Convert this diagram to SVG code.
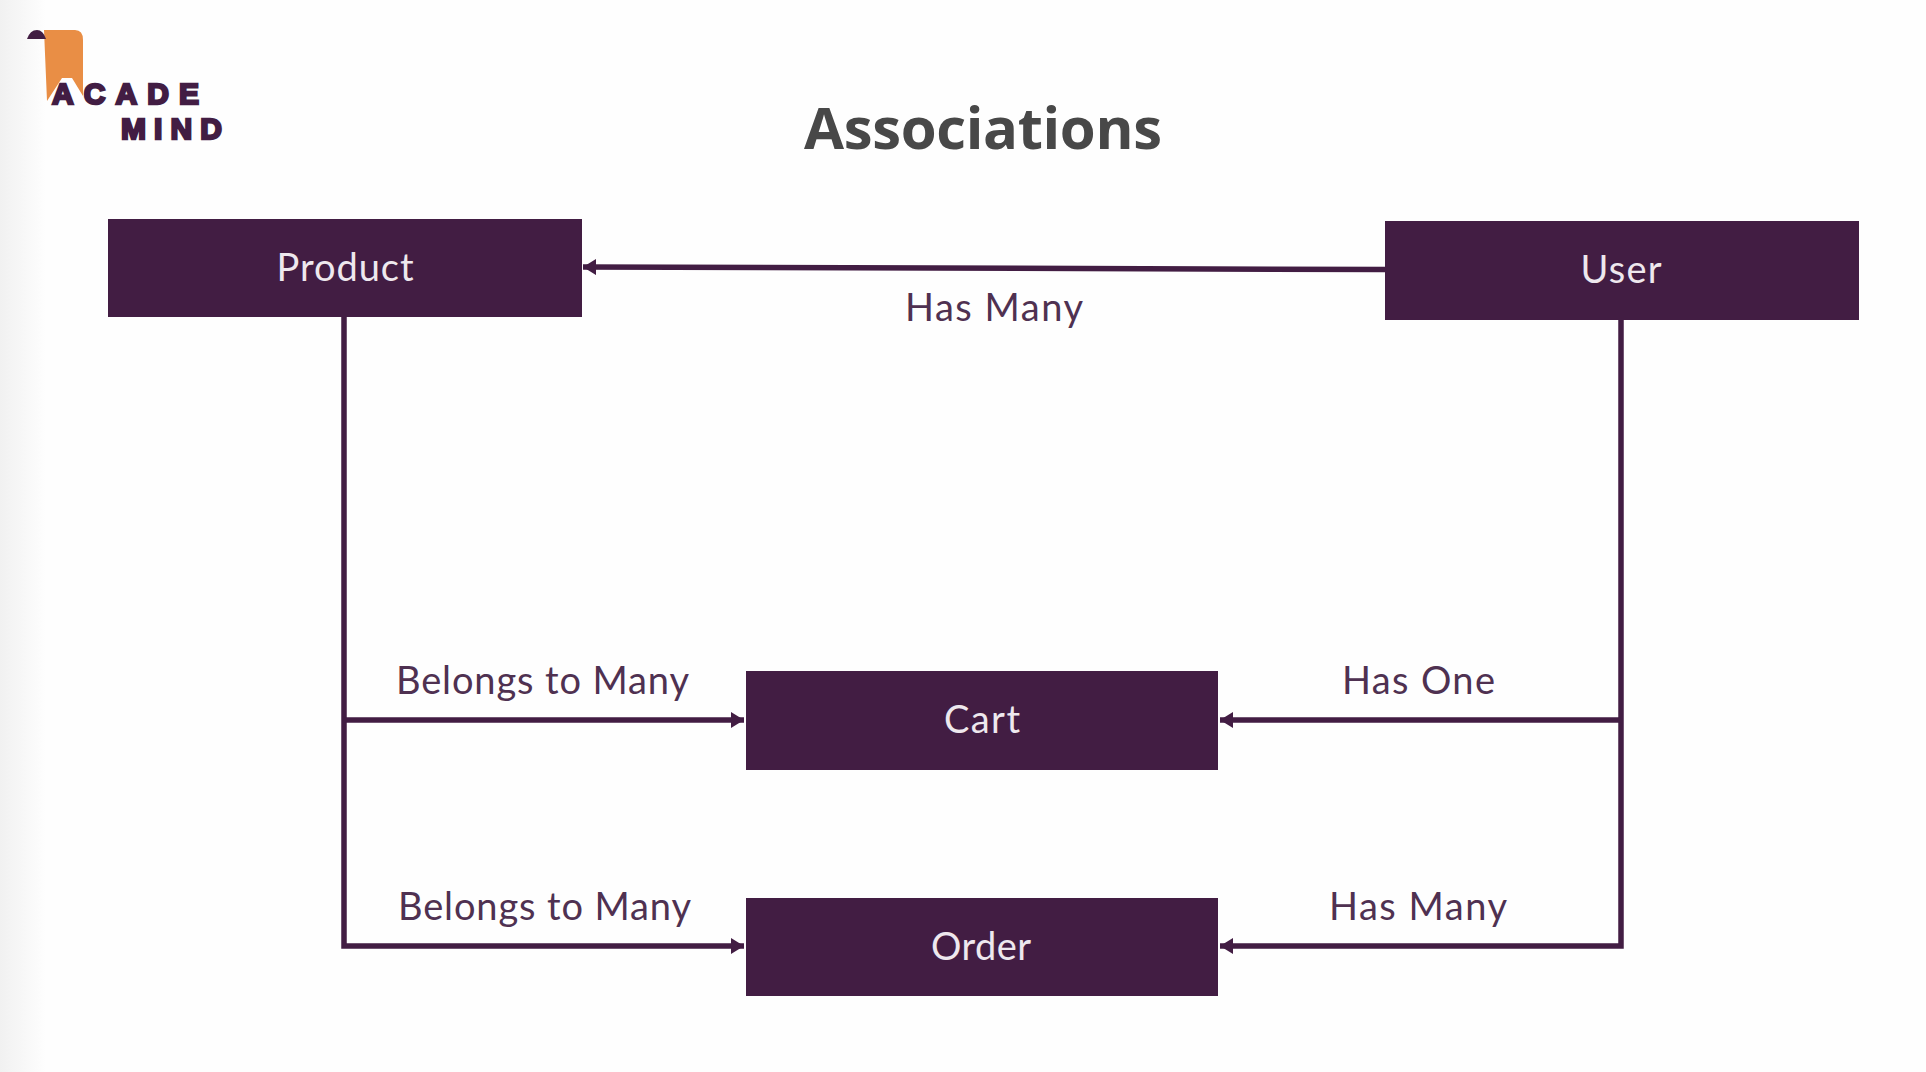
<svg xmlns="http://www.w3.org/2000/svg" width="1926" height="1072" viewBox="0 0 1926 1072">
<style>
.box{fill:#421d43}
.nl{font:400 38px Lato,"Noto Sans",sans-serif;fill:#eee8ee;text-anchor:middle}
.el{font:400 38px Lato,"Noto Sans",sans-serif;fill:#4f3151}
.c{fill:none;stroke:#421d43;stroke-width:5.5}
.logo{font:700 30px "Liberation Sans",Arial,sans-serif;fill:#421d43;stroke:#421d43;stroke-width:2.4}
</style>
<defs>
<linearGradient id="bg" x1="0" x2="1" y1="0" y2="0"><stop offset="0" stop-color="#f1f1f1"/><stop offset="1" stop-color="#fefefe"/></linearGradient>
<marker id="a" markerUnits="userSpaceOnUse" markerWidth="14" markerHeight="16" refX="13" refY="8" orient="auto"><path d="M0 0L13 8L0 16Z" fill="#421d43"/></marker>
</defs>
<rect width="1926" height="1072" fill="#fefefe"/>
<rect width="46" height="1072" fill="url(#bg)"/>
<g id="logo">
<path d="M44 30H75Q83 30 83 40V96L72 78H62L47 101Z" fill="#e98e45"/>
<path d="M27 39Q30 30 37 30Q43 30 46 39Z" fill="#421d43"/>
<text class="logo" x="52" y="103.5" textLength="147">ACADE</text>
<text class="logo" x="121" y="139" textLength="101">MIND</text>
</g>
<text id="title" x="983" y="149" text-anchor="middle" font-family="Open Sans,Noto Sans,sans-serif" font-weight="700" font-size="58" fill="#484848" textLength="358">Associations</text>
<g id="connectors">
<path class="c" d="M1385 269.5L583 267" marker-end="url(#a)"/>
<path class="c" d="M344 317V946H744" marker-end="url(#a)"/>
<path class="c" d="M344 720H744" marker-end="url(#a)"/>
<path class="c" d="M1621 319V946H1220" marker-end="url(#a)"/>
<path class="c" d="M1621 720H1220" marker-end="url(#a)"/>
</g>
<g id="product"><rect class="box" x="108" y="219" width="474" height="98"/><text class="nl" x="345" y="281" textLength="137">Product</text></g>
<g id="user"><rect class="box" x="1385" y="221" width="474" height="99"/><text class="nl" x="1621" y="283" textLength="81">User</text></g>
<g id="cart"><rect class="box" x="746" y="671" width="472" height="99"/><text class="nl" x="982" y="733" textLength="76">Cart</text></g>
<g id="order"><rect class="box" x="746" y="898" width="472" height="98"/><text class="nl" x="981" y="960" textLength="100">Order</text></g>
<g id="labels">
<text class="el" x="905" y="321" textLength="178">Has Many</text>
<text class="el" x="396" y="694" textLength="293">Belongs to Many</text>
<text class="el" x="398" y="920" textLength="293">Belongs to Many</text>
<text class="el" x="1342" y="694" textLength="153">Has One</text>
<text class="el" x="1329" y="920" textLength="178">Has Many</text>
</g>
</svg>
